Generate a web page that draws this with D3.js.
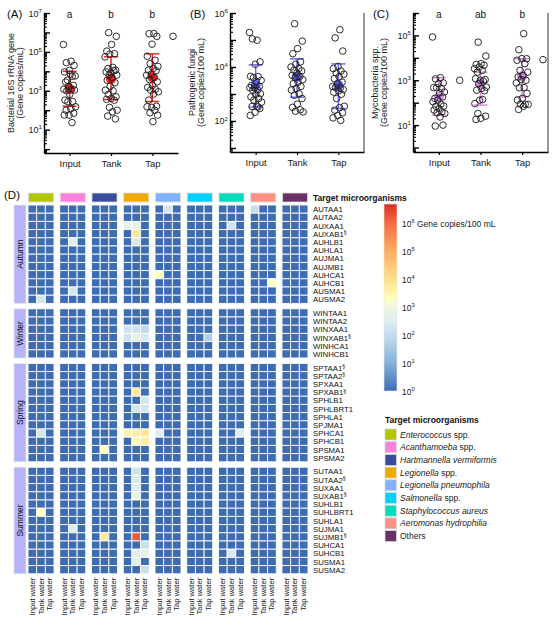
<!DOCTYPE html>
<html><head><meta charset="utf-8">
<script src="https://cdn.jsdelivr.net/npm/d3@7"></script>
<style>
body{margin:0;background:#fff}
svg{font-family:"Liberation Sans",Arial,Helvetica,sans-serif}
</style>
</head><body>
<svg id="chart" width="553" height="638"></svg>
<script>
// ---------------- DATA ----------------
const sites = ["Input", "Tank", "Tap"];

// Panel A: Bacterial 16S rRNA gene (gene copies/mL)
const bactInput = [2.4e5,3.3e4,2.8e4,2.0e4,1.1e4,9.3e3,5.6e3,3.5e3,5.8e3,7.1e3,2.8e3,1.9e3,1.7e3,1.2e3,1.15e3,1.0e3,1.1e3,650,330,280,275,150,120,100,70,56,57,23];
const bactTank  = [9.8e5,6.3e5,2.4e5,1.1e5,8.1e4,7.6e4,5.5e4,1.6e4,1.4e4,1.15e4,8.3e3,9.3e3,1.07e4,6.3e3,6.4e3,4.8e3,3.5e3,2.6e3,1.7e3,1.07e3,1.0e3,650,490,400,360,330,140,100,83,50,36];
const bactTap   = [8.7e5,8.6e5,6.3e5,2.5e5,6.0e4,3.7e4,2.5e4,1.8e4,1.4e4,1.15e4,1.07e4,7.1e3,6.3e3,4.8e3,3.8e3,2.9e3,1.9e3,1.5e3,1.2e3,1.07e3,890,680,330,160,140,150,100,74,56,26];
const bactMean  = [1.26e3, 4.0e3, 5.0e3];
const bactLow   = [160, 355, 280];
const bactHigh  = [1.0e4, 5.6e4, 7.9e4];
const bactOutliers = [["Tap", 6.3e5]];
const bactLetters = ["a", "b", "b"];

// Panel B: Pathogenic fungi (gene copies/100 mL)
const fungiInput = [1.9e5,9.8e4,1.1e5,1.55e4,1.26e4,4.5e3,4.4e3,4.0e3,3.2e3,2.9e3,2.1e3,1.9e3,1.7e3,1.7e3,1.4e3,1.38e3,1.02e3,980,780,680,590,500,350,345,290,210,160,330];
const fungiTank  = [4.0e5,9.1e4,4.8e4,3.1e4,1.55e4,1.26e4,1.0e4,8.7e3,7.6e3,7.1e3,6.0e3,4.9e3,4.5e3,4.0e3,3.4e3,2.75e3,2.4e3,1.9e3,1.6e3,1.4e3,1.02e3,890,680,420,320,260,230,215];
const fungiTap   = [2.4e5,1.2e5,3.9e4,1.05e4,8.7e3,7.1e3,6.0e3,5.4e3,4.3e3,3.7e3,2.75e3,2.4e3,1.9e3,1.7e3,1.75e3,1.45e3,1.3e3,1.17e3,980,680,350,310,250,200,160,130,105];
const fungiMean  = [2.1e3, 4.3e3, 2.1e3];
const fungiLow   = [330, 760, 290];
const fungiHigh  = [1.2e4, 2.0e4, 1.3e4];
const fungiOutliers = [];
const fungiLetters = ["", "", ""];

// Panel C: Mycobacteria spp. (gene copies/100 mL)
const mycoInput = [8.5e4,1.3e3,1.15e3,760,710,470,430,465,300,275,155,180,130,110,85,69,70,55,47,39,35,33,23,9.1,10];
const mycoTank  = [5.0e4,1.2e4,5.5e3,5.1e3,4.7e3,3.9e3,3.3e3,2.75e3,2.3e3,1.07e3,1.0e3,1.17e3,930,710,500,430,360,340,130,91,138,33,25,20,18];
const mycoTap   = [1.2e5,2.3e4,9.1e3,9.2e3,7.8e3,5.5e3,2.75e3,2.3e3,1.65e3,1.4e3,1.0e3,1.07e3,760,470,465,260,155,130,85,86,84,69,50];
const mycoMean  = [180, 660, 1.5e3];
const mycoLow   = [28, 78, 180];
const mycoHigh  = [1.3e3, 2.3e3, 9.1e3];
const mycoOutliers = [["Input", 1.0e3], ["Tap", 8.3e3]];
const mycoLetters = ["a", "ab", "b"];

// Panel D: heatmap
const targets = ["Enterococcus spp.","Acanthamoeba spp.","Hartmannella vermiformis","Legionella spp.","Legionella pneumophila","Salmonella spp.","Staphylococcus aureus","Aeromonas hydrophilia","Others"];
const targetColors = ["#b3c700","#ff80e0","#3a4c9e","#f2aa00","#80b2ff","#00d2ff","#00dcbc","#ff9184","#6b3068"];
const waters = ["Input water","Tank water","Tap water"];
const seasons = ["Autumn","Winter","Spring","Summer"];
const autumnRows = ["AUTAA1","AUTAA2","AUXAA1","AUXAB1§","AUHLB1","AUHLA1","AUJMA1","AUJMB1","AUHCA1","AUHCB1","AUSMA1","AUSMA2"];
const winterRows = ["WINTAA1","WINTAA2","WINXAA1","WINXAB1§","WINHCA1","WINHCB1"];
const springRows = ["SPTAA1§","SPTAA2§","SPXAA1","SPXAB1§","SPHLB1","SPHLBRT1","SPHLA1","SPJMA1","SPHCA1","SPHCB1","SPSMA1","SPSMA2"];
const summerRows = ["SUTAA1","SUTAA2§","SUXAA1","SUXAB1§","SUHLB1","SUHLBRT1","SUHLA1","SUJMA1","SUJMB1§","SUHCA1","SUHCB1","SUSMA1","SUSMA2"];
const baseValue = 1; // 10^0 gene copies/100 mL (below detection)
// [sample, target index, water index, gene copies/100 mL]
const detections = [
  ["AUTAA1",4,1,200],["AUTAA1",7,0,100],
  ["AUXAA1",3,0,630],["AUXAA1",3,1,630],["AUXAA1",6,1,200],
  ["AUXAB1§",3,1,6300],
  ["AUHLB1",1,1,400],["AUHLB1",3,1,250],
  ["AUHCA1",4,0,2000],
  ["AUHCB1",7,2,2000],
  ["AUSMA1",1,1,200],
  ["AUSMA2",0,1,200],
  ["WINXAA1",3,0,160],["WINXAA1",3,1,160],["WINXAA1",3,2,80],
  ["WINXAB1§",3,0,160],["WINXAB1§",3,1,630],["WINXAB1§",3,2,250],["WINXAB1§",5,2,50],
  ["SPXAB1§",3,1,6300],
  ["SPHLB1",3,2,200],
  ["SPHLBRT1",3,1,200],["SPHLBRT1",3,2,200],
  ["SPHCA1",0,1,200],["SPHCA1",3,0,4000],["SPHCA1",3,1,5000],["SPHCA1",3,2,6300],["SPHCA1",4,0,400],["SPHCA1",6,2,320],
  ["SPHCB1",3,1,3200],["SPHCB1",3,2,5000],
  ["SPSMA1",2,1,2000],
  ["SUTAA1",3,1,160],
  ["SUTAA2§",3,1,250],
  ["SUXAA1",3,1,320],
  ["SUXAB1§",3,1,800],
  ["SUHLBRT1",0,1,2000],
  ["SUJMA1",1,1,320],
  ["SUJMB1§",2,1,6300],["SUJMB1§",3,1,1.6e6],
  ["SUHCA1",3,2,125],
  ["SUHCB1",3,1,400],["SUHCB1",3,2,630],["SUHCB1",6,1,250],
  ["SUSMA1",3,1,500],
  ["SUSMA2",3,2,125]
];
const legendExponents = [0,1,2,3,4,5,6];

// ---------------- DRAW ----------------
const svg = d3.select("#chart");
const font = "Liberation Sans, Arial, sans-serif";

function sup(textSel, base, exp, fs) {
  textSel.append("tspan").text(base);
  textSel.append("tspan").attr("font-size", fs * 0.68).attr("dy", -fs * 0.42).text(exp);
}

function panel(cfg) {
  const g = svg.append("g");
  const x = d3.scalePoint().domain(sites).range([cfg.left, cfg.right]).padding(0.62);
  const y = d3.scaleLog().domain(cfg.domain).range([cfg.bottom, cfg.top]);
  const lo = Math.log10(cfg.domain[0]), hi = Math.log10(cfg.domain[1]);
  const majors = d3.range(Math.ceil(lo - 1e-9), Math.floor(hi + 1e-9) + 1).map(e => Math.pow(10, e));
  const minors = [];
  d3.range(Math.floor(lo), Math.ceil(hi)).forEach(e => {
    for (let k = 2; k <= 9; k++) {
      const v = k * Math.pow(10, e);
      if (v > cfg.domain[0] && v < cfg.domain[1]) minors.push(v);
    }
  });
  g.append("g").attr("transform", `translate(${cfg.left},0)`)
    .call(d3.axisRight(y).tickValues(minors).tickSize(3).tickSizeOuter(0).tickFormat(""))
    .call(s => { s.select(".domain").remove(); s.selectAll("line").attr("stroke", "#000").attr("stroke-width", 1.1); });
  g.append("g").attr("transform", `translate(${cfg.left},0)`)
    .call(d3.axisRight(y).tickValues(majors).tickSize(6).tickSizeOuter(0).tickFormat(""))
    .call(s => { s.select(".domain").attr("stroke", "#000").attr("stroke-width", 1.4);
                 s.selectAll("line").attr("stroke", "#000").attr("stroke-width", 1.4); });
  majors.forEach(v => {
    const e = Math.round(Math.log10(v));
    if (cfg.labelExp.includes(e)) {
      const t = g.append("text").attr("x", cfg.left - 2).attr("y", y(v) + 3.5)
        .attr("text-anchor", "end").attr("font-size", 9).attr("fill", "#222");
      sup(t, "10", String(e), 9);
    }
  });
  g.append("g").attr("transform", `translate(0,${cfg.bottom})`)
    .call(d3.axisBottom(x).tickSize(3).tickSizeOuter(0).tickPadding(4))
    .call(s => { s.select(".domain").attr("stroke", "#000").attr("stroke-width", 1.4);
                 s.selectAll("line").attr("stroke", "#000").attr("stroke-width", 1.2);
                 s.selectAll("text").attr("font-size", 9.5).attr("font-family", font).attr("fill", "#222"); });
  if (cfg.rightBorder) {
    g.append("line").attr("x1", cfg.right).attr("x2", cfg.right).attr("y1", cfg.top).attr("y2", cfg.bottom)
      .attr("stroke", "#333").attr("stroke-width", 1);
  }
  cfg.ylabel.forEach((line, i) => {
    g.append("text").attr("transform", `translate(${cfg.ylabelX + i * 9},${(cfg.top + cfg.bottom) / 2}) rotate(-90)`)
      .attr("text-anchor", "middle").attr("font-size", 9).attr("fill", "#222").text(line);
  });
  g.append("text").attr("x", cfg.letterX).attr("y", 18).attr("font-size", 11.5).attr("fill", "#111").text(cfg.letter);
  cfg.letters.forEach((l, i) => {
    g.append("text").attr("x", x(sites[i])).attr("y", 18).attr("text-anchor", "middle")
      .attr("font-size", 10).attr("fill", "#111").text(l);
  });
  const cap = 7;
  sites.forEach((s, i) => {
    const cx = x(s);
    g.append("line").attr("x1", cx).attr("x2", cx).attr("y1", y(cfg.low[i])).attr("y2", y(cfg.high[i]))
      .attr("stroke", cfg.color).attr("stroke-width", 1.5);
    [cfg.low[i], cfg.high[i]].forEach(v => {
      g.append("line").attr("x1", cx - cap).attr("x2", cx + cap).attr("y1", y(v)).attr("y2", y(v))
        .attr("stroke", cfg.color).attr("stroke-width", 1.5);
    });
    g.append("circle").attr("cx", cx).attr("cy", y(cfg.mean[i])).attr("r", 5).attr("fill", cfg.meanFill);
  });
  const step = x.step();
  const pts = [];
  cfg.values.forEach((arr, gi) => {
    arr.forEach((v, i) => {
      const j = ((i * 0.618034 + gi * 0.31) % 1 - 0.5) * 2 * 0.15 * step;
      pts.push({ cx: x(sites[gi]) + j, v });
    });
  });
  cfg.outliers.forEach(([s, v]) => pts.push({ cx: x(s) + 0.5 * step, v }));
  g.selectAll("circle.pt").data(pts).join("circle").attr("class", "pt")
    .attr("cx", d => d.cx).attr("cy", d => y(d.v)).attr("r", 3.3)
    .attr("fill", "none").attr("stroke", "#222").attr("stroke-width", 0.95);
}

panel({ left: 44, right: 178, top: 13, bottom: 153, domain: [Math.pow(10, -0.2), 1e7], labelExp: [1,3,5,7],
  values: [bactInput, bactTank, bactTap], mean: bactMean, low: bactLow, high: bactHigh, outliers: bactOutliers,
  color: "#ee2222", meanFill: "#ff1a1a", letters: bactLetters, letter: "(A)", letterX: 7,
  ylabel: ["Bacterial 16S rRNA gene", "(Gene copies/mL)"], ylabelX: 14, rightBorder: false });
panel({ left: 230, right: 364, top: 13, bottom: 152, domain: [Math.pow(10, 0.85), 1e6], labelExp: [2,4,6],
  values: [fungiInput, fungiTank, fungiTap], mean: fungiMean, low: fungiLow, high: fungiHigh, outliers: fungiOutliers,
  color: "#6a6aff", meanFill: "#5c5cff", letters: fungiLetters, letter: "(B)", letterX: 190,
  ylabel: ["Pathogenic fungi", "(Gene copies/100 mL)"], ylabelX: 195, rightBorder: true });
panel({ left: 413, right: 548, top: 13, bottom: 152, domain: [Math.pow(10, -0.2), 1e6], labelExp: [1,3,5],
  values: [mycoInput, mycoTank, mycoTap], mean: mycoMean, low: mycoLow, high: mycoHigh, outliers: mycoOutliers,
  color: "#d58ad5", meanFill: "#cc88dd", letters: mycoLetters, letter: "(C)", letterX: 373,
  ylabel: ["Mycobacteria spp.", "(Gene copies/100 mL)"], ylabelX: 378, rightBorder: true });

// ---------- Heatmap ----------
const hm = svg.append("g");
const colorLog = d3.scaleLinear()
  .domain([0, 1, 2, 2.5, 3, 3.3, 4, 5, 6, 6.7])
  .range(["#3e6cb2","#86b2d8","#c3ddec","#dcecf2","#eef6e0","#ffffbf","#fee08b","#fdae61","#f46d43","#d73027"])
  .clamp(true);
const color = v => colorLog(Math.log10(v));

const gx = d3.scaleBand().domain(targets).range([28, 308]).paddingInner(0.18);
const sx = d3.scaleBand().domain(waters).range([0, gx.bandwidth()]);
const rowsBySeason = [autumnRows, winterRows, springRows, summerRows];
const rowH = 8.2, seasonGap = 5.4;
let yStart = 205;
const rowScales = [];
rowsBySeason.forEach(rows => {
  const sc = d3.scaleBand().domain(rows).range([yStart, yStart + rows.length * rowH]);
  rowScales.push(sc);
  yStart += rows.length * rowH + seasonGap;
});
const lookup = new Map(detections.map(d => [d[0] + "|" + d[1] + "|" + d[2], d[3]]));
const cells = [];
rowsBySeason.forEach((rows, si) => rows.forEach(r => targets.forEach((t, ti) => waters.forEach((w, wi) => {
  const v = lookup.get(r + "|" + ti + "|" + wi);
  cells.push({ si, r, t, w, v: v === undefined ? baseValue : v });
}))));
hm.selectAll("rect.cell").data(cells).join("rect").attr("class", "cell")
  .attr("x", d => gx(d.t) + sx(d.w)).attr("y", d => rowScales[d.si](d.r))
  .attr("width", sx.bandwidth()).attr("height", rowScales[0].bandwidth())
  .attr("fill", d => color(d.v)).attr("stroke", "#ffffff").attr("stroke-width", 0.9);

hm.selectAll("rect.strip").data(targets).join("rect").attr("class", "strip")
  .attr("x", d => gx(d) + 0.5).attr("y", 193).attr("width", gx.bandwidth() - 1).attr("height", 9)
  .attr("fill", (d, i) => targetColors[i]).attr("stroke", "#dcdcdc").attr("stroke-width", 0.8);
hm.append("text").attr("x", 313).attr("y", 200.5).attr("font-size", 8.5).attr("font-weight", "bold")
  .attr("fill", "#111").text("Target microorganisms");
hm.append("text").attr("x", 4).attr("y", 199).attr("font-size", 11.5).attr("fill", "#111").text("(D)");

seasons.forEach((s, si) => {
  const sc = rowScales[si];
  const [y0, y1] = sc.range();
  hm.append("rect").attr("x", 14).attr("y", y0).attr("width", 12).attr("height", y1 - y0)
    .attr("fill", "#b4b4f6").attr("stroke", "#e4e4fb").attr("stroke-width", 0.8);
  hm.append("text").attr("transform", `translate(20,${(y0 + y1) / 2}) rotate(-90)`)
    .attr("text-anchor", "middle").attr("dominant-baseline", "central")
    .attr("font-size", 8.5).attr("fill", "#111").text(s);
  sc.domain().forEach(r => {
    const t = hm.append("text").attr("x", 313).attr("y", sc(r) + sc.bandwidth() / 2 + 3)
      .attr("font-size", 7.8).attr("fill", "#111");
    if (r.endsWith("§")) {
      t.append("tspan").text(r.slice(0, -1));
      t.append("tspan").attr("font-size", 5).attr("dy", -2.6).text("§");
    } else t.text(r);
  });
});

const lastRange = rowScales[3].range();
targets.forEach(t => waters.forEach(w => {
  hm.append("text").attr("transform", `translate(${gx(t) + sx(w) + sx.bandwidth() / 2},${lastRange[1] + 4}) rotate(-90)`)
    .attr("text-anchor", "end").attr("dominant-baseline", "central")
    .attr("font-size", 7.6).attr("fill", "#222").text(w);
}));

const ly = d3.scaleLinear().domain([0, 6.7]).range([391, 204]);
const defs = svg.append("defs");
const grad = defs.append("linearGradient").attr("id", "cg").attr("x1", 0).attr("y1", 1).attr("x2", 0).attr("y2", 0);
d3.range(0, 6.71, 0.1).forEach(v => grad.append("stop").attr("offset", v / 6.7).attr("stop-color", colorLog(v)));
hm.append("rect").attr("x", 384).attr("y", ly(6.7)).attr("width", 13).attr("height", ly(0) - ly(6.7))
  .attr("fill", "url(#cg)").attr("stroke", "#e6e6e6").attr("stroke-width", 0.6);
legendExponents.forEach(e => {
  const t = hm.append("text").attr("x", 402).attr("y", ly(e) + 3.5).attr("font-size", 8.5).attr("fill", "#222");
  sup(t, "10", String(e), 8.5);
});
hm.append("text").attr("x", 417).attr("y", ly(6) + 3.5).attr("font-size", 8.5).attr("fill", "#222").text("Gene copies/100 mL");

hm.append("text").attr("x", 385).attr("y", 423).attr("font-size", 8.5).attr("font-weight", "bold")
  .attr("fill", "#111").text("Target microorganisms");
targets.forEach((t, i) => {
  const yy = 429 + i * 12.7;
  hm.append("rect").attr("x", 385).attr("y", yy).attr("width", 11.5).attr("height", 11)
    .attr("fill", targetColors[i]).attr("stroke", "#d8d8d8").attr("stroke-width", 0.8);
  const tx = hm.append("text").attr("x", 400).attr("y", yy + 8.5).attr("font-size", 8.5).attr("fill", "#222");
  if (t.endsWith(" spp.")) {
    tx.append("tspan").attr("font-style", "italic").text(t.slice(0, -5));
    tx.append("tspan").text(" spp.");
  } else if (t === "Others") {
    tx.text(t);
  } else {
    tx.append("tspan").attr("font-style", "italic").text(t);
  }
});
</script>
</body></html>
